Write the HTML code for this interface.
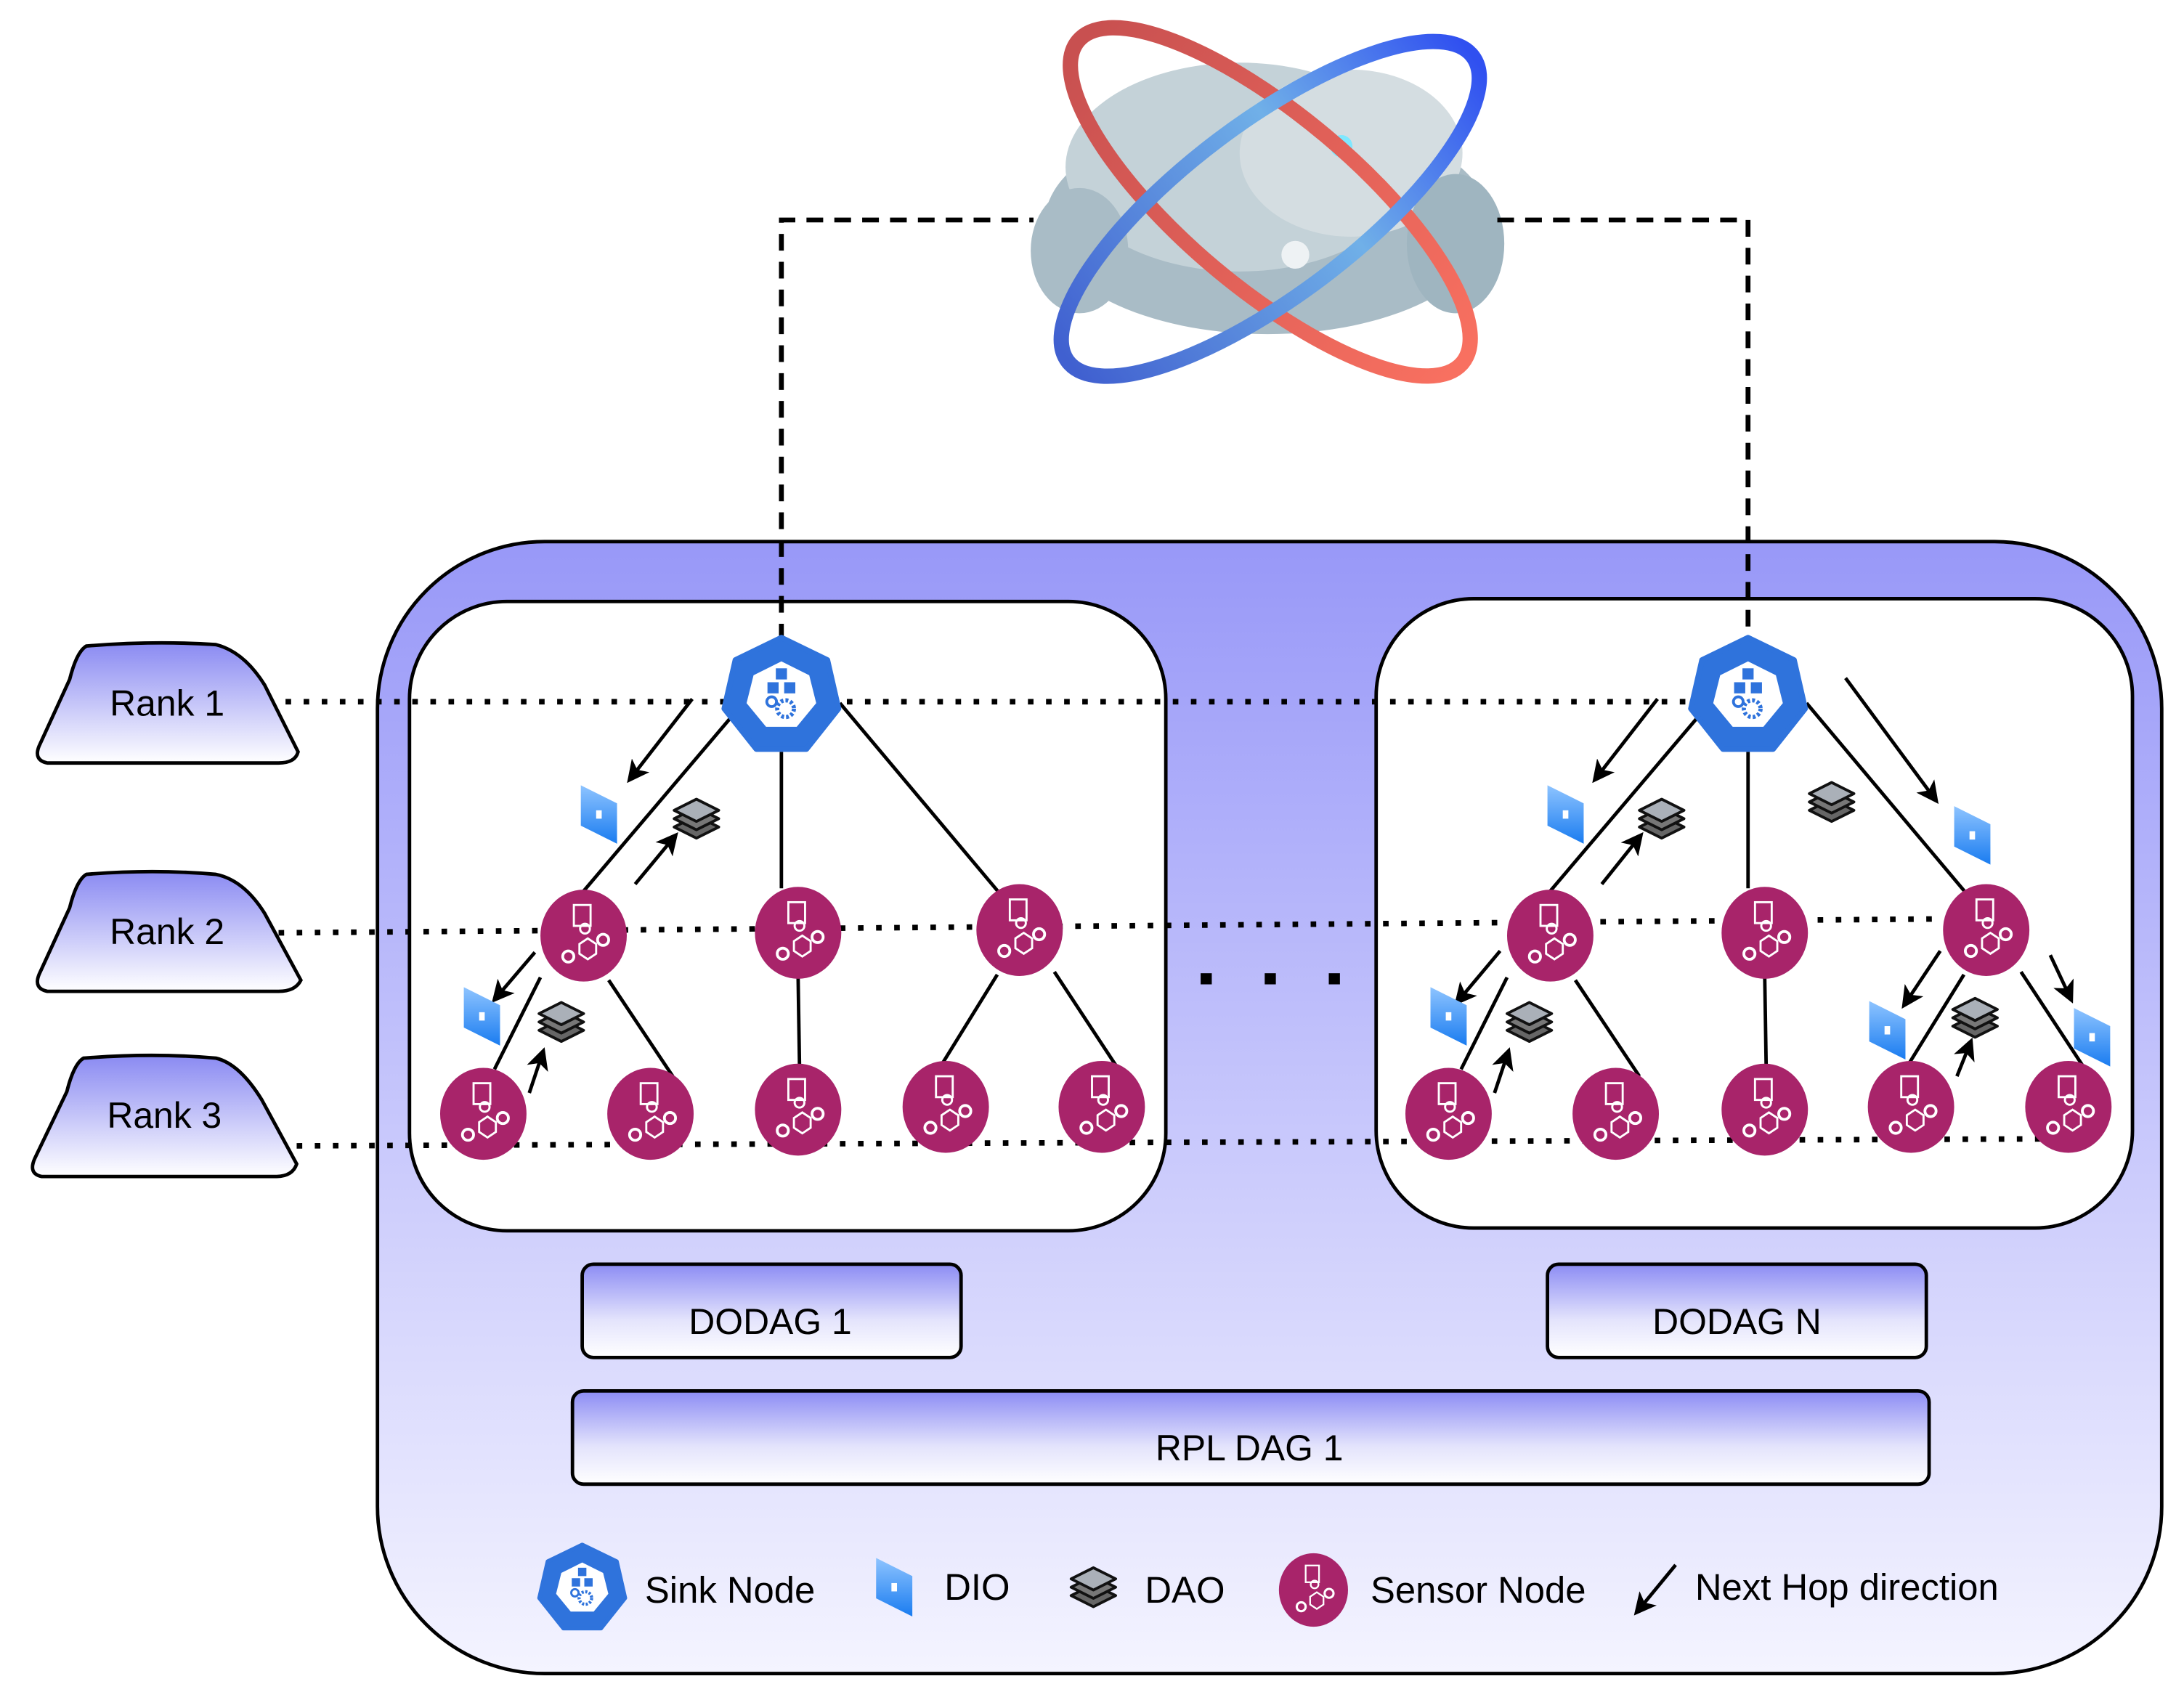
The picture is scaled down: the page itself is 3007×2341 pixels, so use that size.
<!DOCTYPE html>
<html><head><meta charset="utf-8"><style>html,body{margin:0;padding:0;background:#fff}svg{display:block}</style></head><body>
<svg width="3007" height="2341" viewBox="0 0 1568 1221" preserveAspectRatio="none" xmlns="http://www.w3.org/2000/svg" font-family="Liberation Sans, sans-serif">
<defs>
<linearGradient id="bg" x1="0" y1="0" x2="0" y2="1"><stop offset="0" stop-color="#9898f8"/><stop offset="1" stop-color="#f4f4ff"/></linearGradient>
<linearGradient id="bx" x1="0" y1="0" x2="0" y2="1"><stop offset="0" stop-color="#8c8cf4"/><stop offset="0.6" stop-color="#e4e4fc"/><stop offset="1" stop-color="#ffffff"/></linearGradient>
<linearGradient id="rk" x1="0" y1="0" x2="0" y2="1"><stop offset="0" stop-color="#8a8af2"/><stop offset="1" stop-color="#ffffff"/></linearGradient>
<linearGradient id="diog" x1="0" y1="0" x2="0" y2="1"><stop offset="0" stop-color="#8ec4ff"/><stop offset="1" stop-color="#1a7cf0"/></linearGradient>
<linearGradient id="rr" x1="0" y1="0" x2="1" y2="0"><stop offset="0" stop-color="#c85050"/><stop offset="1" stop-color="#f87060"/></linearGradient>
<linearGradient id="br" x1="0" y1="0" x2="1" y2="0"><stop offset="0" stop-color="#4060d0"/><stop offset="0.6" stop-color="#70b0e8"/><stop offset="1" stop-color="#3050f0"/></linearGradient>
<g id="sn">
<ellipse cx="0" cy="0" rx="31" ry="33" fill="#a8246a"/>
<rect x="-7" y="-22" width="12" height="15" fill="none" stroke="#fff" stroke-width="1.5"/>
<circle cx="1" cy="-5" r="3.5" fill="none" stroke="#fff" stroke-width="1.5"/>
<path d="M-3 6 l6 -4 6 4 v7 l-6 4 -6 -4z" fill="none" stroke="#fff" stroke-width="1.5"/>
<circle cx="-11" cy="15" r="4" fill="none" stroke="#fff" stroke-width="2"/>
<circle cx="14" cy="3" r="4" fill="none" stroke="#fff" stroke-width="2"/>
</g>
<g id="sk">
<polygon points="0,-42 33,-26 41,9 18,38 -18,38 -41,9 -33,-26" fill="#2f73dc" stroke="#2f73dc" stroke-width="4" stroke-linejoin="round"/>
<polygon points="0,-25 20,-15 25,5 11,22 -11,22 -25,5 -20,-15" fill="#fff"/>
<rect x="-4" y="-20" width="8" height="8" fill="#2f73dc"/>
<rect x="-10" y="-10" width="8" height="8" fill="#2f73dc"/>
<rect x="2" y="-10" width="8" height="8" fill="#2f73dc"/>
<circle cx="3" cy="9" r="6" fill="none" stroke="#2f73dc" stroke-width="3" stroke-dasharray="2 1.5"/>
<circle cx="-7" cy="4" r="3.5" fill="none" stroke="#2f73dc" stroke-width="2"/>
</g>
<g id="dio"><polygon points="-13,-21 13,-8 13,21 -13,8" fill="url(#diog)"/><rect x="-2" y="-3" width="4" height="6" fill="#fff"/></g>
<g id="dao" stroke="#111" stroke-width="2" stroke-linejoin="round">
<polygon points="0,-4 16,4 0,12 -16,4" fill="#666"/>
<polygon points="0,-10 16,-2 0,6 -16,-2" fill="#777"/>
<polygon points="0,-16 16,-8 0,0 -16,-8" fill="#aab0b8"/>
</g>
<marker id="ah2" markerWidth="16" markerHeight="16" refX="13" refY="8" orient="auto" markerUnits="userSpaceOnUse"><path d="M0,0 L16,8 L0,16 L4,8z" fill="#000"/></marker>
</defs>
<rect width="1568" height="1221" fill="#fff"/>

<!-- cloud -->
<g>
<ellipse cx="910" cy="160" rx="160" ry="80" fill="#a9bcc6"/>
<ellipse cx="890" cy="120" rx="125" ry="75" fill="#c4d2d8"/>
<ellipse cx="970" cy="110" rx="80" ry="60" fill="#d4dde1"/>
<ellipse cx="775" cy="180" rx="35" ry="45" fill="#a9bcc6"/>
<ellipse cx="1045" cy="175" rx="35" ry="50" fill="#9fb5c0"/>
<circle cx="963" cy="105" r="8" fill="#7fe8ff"/>
<circle cx="930" cy="183" r="10" fill="#eef2f4"/>
<ellipse cx="912" cy="145" rx="180" ry="62" transform="rotate(40 912 145)" fill="none" stroke="url(#rr)" stroke-width="11"/>
<ellipse cx="912" cy="150" rx="182" ry="62" transform="rotate(-37 912 150)" fill="none" stroke="url(#br)" stroke-width="11"/>
</g>

<!-- outer -->
<rect x="271" y="389" width="1281" height="813" rx="120" fill="url(#bg)" stroke="#000" stroke-width="2.5"/>
<rect x="294" y="432" width="543" height="452" rx="70" fill="#fff" stroke="#000" stroke-width="2.5"/>
<rect x="988" y="430" width="543" height="452" rx="70" fill="#fff" stroke="#000" stroke-width="2.5"/>

<path d="M561 460 V158 H742 M1075 158 H1255 V460" fill="none" stroke="#000" stroke-width="3.5" stroke-dasharray="12 8"/>

<g stroke="#000" stroke-width="4" stroke-dasharray="4 9">
<line x1="205" y1="504" x2="1240" y2="504"/>
<line x1="200" y1="670" x2="1395" y2="660"/>
<line x1="213" y1="823" x2="1465" y2="818"/>
</g>

<g stroke="#000" stroke-width="2.5" fill="url(#rk)">
<path d="M62 464 Q110 460 155 463 Q175 468 190 492 L214 540 Q212 548 200 548 L34 548 Q24 546 28 536 L50 488 Q55 468 62 464z"/>
<path d="M62 628 Q110 624 155 628 Q175 632 190 656 L216 704 Q212 712 200 712 L34 712 Q24 710 28 700 L50 652 Q55 632 62 628z"/>
<path d="M60 760 Q110 756 155 760 Q172 764 188 790 L213 836 Q210 845 198 845 L30 845 Q20 843 25 832 L48 784 Q53 764 60 760z"/>
</g>
<g font-size="26" text-anchor="middle" fill="#000">
<text x="120" y="514">Rank 1</text>
<text x="120" y="678">Rank 2</text>
<text x="118" y="810">Rank 3</text>
</g>

<g stroke="#000" stroke-width="2.5">
<line x1="525" y1="515" x2="419" y2="640"/><line x1="561" y1="540" x2="561" y2="638"/><line x1="603" y1="505" x2="718" y2="642"/>
<line x1="388" y1="702" x2="355" y2="768"/><line x1="437" y1="704" x2="483" y2="773"/><line x1="573" y1="702" x2="574" y2="765"/><line x1="716" y1="700" x2="674" y2="768"/><line x1="757" y1="698" x2="801" y2="765"/>
<line x1="1219" y1="515" x2="1113" y2="640"/><line x1="1255" y1="540" x2="1255" y2="638"/><line x1="1297" y1="505" x2="1412" y2="642"/>
<line x1="1082" y1="702" x2="1049" y2="768"/><line x1="1131" y1="704" x2="1177" y2="773"/><line x1="1267" y1="702" x2="1268" y2="765"/><line x1="1410" y1="700" x2="1368" y2="768"/><line x1="1451" y1="698" x2="1495" y2="765"/>
</g>

<g stroke="#000" stroke-width="2.5" marker-end="url(#ah2)">
<line x1="497" y1="502" x2="452" y2="560"/><line x1="456" y1="635" x2="485" y2="600"/><line x1="384" y1="684" x2="355" y2="718"/><line x1="380" y1="785" x2="390" y2="755"/>
<line x1="1190" y1="502" x2="1145" y2="560"/><line x1="1325" y1="487" x2="1390" y2="575"/><line x1="1150" y1="635" x2="1178" y2="600"/><line x1="1077" y1="683" x2="1046" y2="720"/><line x1="1073" y1="785" x2="1083" y2="755"/><line x1="1393" y1="683" x2="1367" y2="722"/><line x1="1405" y1="773" x2="1415" y2="748"/><line x1="1472" y1="686" x2="1487" y2="718"/>
</g>

<use href="#dio" x="430" y="585"/><use href="#dio" x="346" y="730"/>
<use href="#dao" x="500" y="590"/><use href="#dao" x="403" y="736"/>
<use href="#dio" x="1124" y="585"/><use href="#dio" x="1416" y="600"/><use href="#dio" x="1040" y="730"/><use href="#dio" x="1355" y="740"/><use href="#dio" x="1502" y="745"/>
<use href="#dao" x="1193" y="590"/><use href="#dao" x="1315" y="578"/><use href="#dao" x="1098" y="736"/><use href="#dao" x="1418" y="733"/>

<use href="#sk" x="561" y="500"/><use href="#sk" x="1255" y="500"/>
<use href="#sn" x="419" y="672"/><use href="#sn" x="573" y="670"/><use href="#sn" x="732" y="668"/>
<use href="#sn" x="347" y="800"/><use href="#sn" x="467" y="800"/><use href="#sn" x="573" y="797"/><use href="#sn" x="679" y="795"/><use href="#sn" x="791" y="795"/>
<use href="#sn" x="1113" y="672"/><use href="#sn" x="1267" y="670"/><use href="#sn" x="1426" y="668"/>
<use href="#sn" x="1040" y="800"/><use href="#sn" x="1160" y="800"/><use href="#sn" x="1267" y="797"/><use href="#sn" x="1372" y="795"/><use href="#sn" x="1485" y="795"/>

<g fill="#000"><rect x="862" y="699" width="8" height="8"/><rect x="908" y="699" width="8" height="8"/><rect x="954" y="699" width="8" height="8"/></g>

<g stroke="#000" stroke-width="2.5" fill="url(#bx)">
<rect x="418" y="908" width="272" height="67" rx="8"/>
<rect x="1111" y="908" width="272" height="67" rx="8"/>
<rect x="411" y="999" width="974" height="67" rx="8"/>
</g>
<g font-size="26" text-anchor="middle" fill="#000">
<text x="553" y="958">DODAG 1</text>
<text x="1247" y="958">DODAG N</text>
<text x="897" y="1049">RPL DAG 1</text>
</g>

<g transform="translate(418 1141) scale(0.75)"><use href="#sk"/></g>
<use href="#dio" x="642" y="1140"/>
<g transform="translate(785 1142)"><use href="#dao"/></g>
<g transform="translate(943 1142) scale(0.8)"><use href="#sn"/></g>
<line x1="1203" y1="1124" x2="1175" y2="1158" stroke="#000" stroke-width="2.5" marker-end="url(#ah2)"/>
<g font-size="26.5" fill="#000">
<text x="463" y="1151">Sink Node</text>
<text x="678" y="1149">DIO</text>
<text x="822" y="1151">DAO</text>
<text x="984" y="1151">Sensor Node</text>
<text x="1217" y="1149">Next Hop direction</text>
</g>
</svg>
</body></html>
